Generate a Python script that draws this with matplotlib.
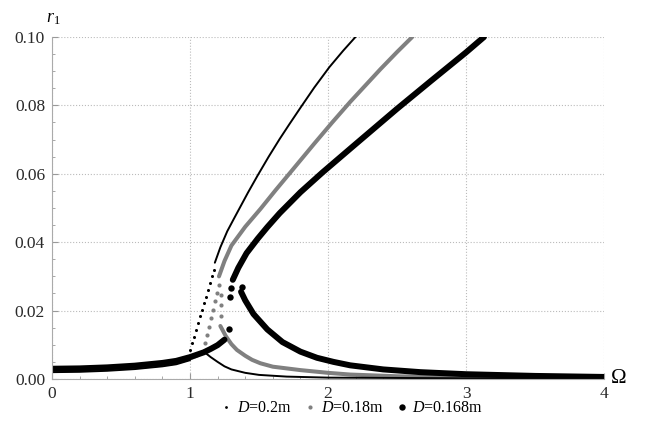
import matplotlib
matplotlib.use("Agg")
import matplotlib.pyplot as plt
from matplotlib.lines import Line2D

plt.rcParams['font.family'] = 'Liberation Serif'
plt.rcParams['mathtext.fontset'] = 'custom'
plt.rcParams['mathtext.rm'] = 'Liberation Serif'
plt.rcParams['mathtext.it'] = 'Liberation Serif:italic'

# --- D = 0.2 m ---
a_left_x = [0.0, 0.2, 0.4, 0.6, 0.8, 0.9, 1.0]
a_left_y = [0.0020, 0.0021, 0.0024, 0.0029, 0.0037, 0.0043, 0.0055]
a_dot_x = [1.000, 1.017, 1.032, 1.043, 1.058, 1.072, 1.085, 1.099,
           1.114, 1.128, 1.143, 1.157, 1.172]
a_dot_y = [0.0085, 0.0105, 0.0124, 0.0144, 0.0163, 0.0183, 0.0202,
           0.0222, 0.0241, 0.0261, 0.0281, 0.0300, 0.0320]
a_up_x = [1.18, 1.22, 1.27, 1.32, 1.36, 1.42, 1.49, 1.57, 1.65, 1.72,
          1.80, 1.90, 2.01, 2.11, 2.21]
a_up_y = [0.0340, 0.0385, 0.0432, 0.0470, 0.0500, 0.0545, 0.0595,
          0.0650, 0.0702, 0.0745, 0.0793, 0.0852, 0.0912, 0.0960, 0.1005]
a_right_x = [1.10, 1.15, 1.20, 1.25, 1.30, 1.40, 1.50, 1.70, 2.0, 2.5,
             3.0, 4.0]
a_right_y = [0.0080, 0.0064, 0.0050, 0.0037, 0.0028, 0.0018, 0.0012,
             0.0007, 0.0004, 0.0003, 0.0002, 0.0001]

# --- D = 0.18 m ---
b_left_x = [0.0, 0.2, 0.4, 0.6, 0.8, 0.9, 1.0, 1.05, 1.1]
b_left_y = [0.0025, 0.0026, 0.0029, 0.0034, 0.0042, 0.0048, 0.0060,
            0.0068, 0.0080]
b_dot_x = [1.109, 1.126, 1.140, 1.155, 1.169, 1.183, 1.196, 1.208,
           1.222, 1.224, 1.225]
b_dot_y = [0.0105, 0.0129, 0.0153, 0.0178, 0.0202, 0.0227, 0.0251,
           0.0276, 0.0185, 0.0215, 0.0245]
b_up_x = [1.21, 1.25, 1.30, 1.40, 1.51, 1.62, 1.75, 1.90, 2.03, 2.16,
          2.27, 2.38, 2.50, 2.61]
b_up_y = [0.0300, 0.0345, 0.0390, 0.0445, 0.0497, 0.0552, 0.0615,
          0.0688, 0.0750, 0.0810, 0.0858, 0.0906, 0.0956, 0.1000]
b_right_x = [1.22, 1.26, 1.30, 1.34, 1.40, 1.45, 1.51, 1.60, 1.80,
             2.0, 2.16, 2.5, 3.0, 4.0]
b_right_y = [0.0155, 0.0125, 0.0102, 0.0085, 0.0068, 0.0056, 0.0046,
             0.0036, 0.0026, 0.0018, 0.0013, 0.0008, 0.0005, 0.0003]

# --- D = 0.168 m ---
c_left_x = [0.0, 0.2, 0.4, 0.6, 0.8, 0.9, 1.0, 1.1, 1.15, 1.2, 1.25]
c_left_y = [0.0030, 0.0031, 0.0034, 0.0039, 0.0047, 0.0053, 0.0064,
            0.0078, 0.0088, 0.0099, 0.0115]
c_dot_x = [1.28, 1.29, 1.295, 1.375]
c_dot_y = [0.0147, 0.0240, 0.0267, 0.0270]
c_up_x = [1.31, 1.35, 1.41, 1.49, 1.56, 1.65, 1.80, 1.96, 2.18, 2.34,
          2.50, 2.75, 3.00, 3.13]
c_up_y = [0.0290, 0.0325, 0.0368, 0.0410, 0.0444, 0.0485, 0.0546,
          0.0604, 0.0680, 0.0735, 0.0790, 0.0873, 0.0955, 0.1000]
c_right_x = [1.37, 1.40, 1.46, 1.56, 1.67, 1.80, 1.92, 2.04, 2.16, 2.40,
             2.67, 3.0, 3.5, 4.0]
c_right_y = [0.0255, 0.0230, 0.0190, 0.0145, 0.0108, 0.0080, 0.0062,
             0.0050, 0.0040, 0.0028, 0.0020, 0.0014, 0.0009, 0.0006]

labels = [r'$D$=0.2m', r'$D$=0.18m', r'$D$=0.168m']

fig = plt.figure(figsize=(6.48, 4.41), dpi=100)
ax = fig.add_axes([0.0802, 0.1406, 0.852, 0.7755])

series = [
    (b_left_x, b_left_y, b_dot_x, b_dot_y, b_up_x, b_up_y, b_right_x, b_right_y,
     '#808080', 2.9, 3.0),
    (a_left_x, a_left_y, a_dot_x, a_dot_y, a_up_x, a_up_y, a_right_x, a_right_y,
     'black', 1.4, 2.2),
    (c_left_x, c_left_y, c_dot_x, c_dot_y, c_up_x, c_up_y, c_right_x, c_right_y,
     'black', 4.3, 4.6),
]
for lx, ly, dx, dy, ux, uy, rx, ry, col, lw, ms in series:
    for xs, ys in [(lx, ly), (ux, uy), (rx, ry)]:
        ax.plot(xs, ys, color=col, lw=lw, solid_capstyle='round',
                solid_joinstyle='round')
    ax.plot(dx, dy, 'o', color=col, ms=ms, mec='none')

ax.set_xlim(0, 4)
ax.set_ylim(0, 0.1)
ax.set_xticks([0, 1, 2, 3, 4])
ax.set_yticks([0.0, 0.02, 0.04, 0.06, 0.08, 0.10])
ax.set_yticklabels(['0.00', '0.02', '0.04', '0.06', '0.08', '0.10'])
ax.set_xticks([0.2 * i for i in range(21)], minor=True)
ax.set_yticks([0.005 * i for i in range(21)], minor=True)
ax.tick_params(which='major', direction='in', length=4, width=0.8,
               color='#999999', labelsize=12.5, labelcolor='#2a2a2a', pad=5)
ax.tick_params(which='minor', direction='in', length=2, width=0.6,
               color='#999999')
ax.grid(True, which='major', ls=':', lw=0.8, color='#bbbbbb')
for s in ['top', 'right']:
    ax.spines[s].set_visible(False)
for s in ['left', 'bottom']:
    ax.spines[s].set_color('#aaaaaa')
    ax.spines[s].set_linewidth(0.8)

ax.text(-0.01, 1.03, r'$r_1$', transform=ax.transAxes, fontsize=13,
        ha='left', va='bottom')
ax.text(1.01, 0.0, r'$\Omega$', transform=ax.transAxes, fontsize=15,
        ha='left', va='center')

handles = [
    Line2D([], [], ls='none', marker='o', color='black', ms=2.0, mec='none'),
    Line2D([], [], ls='none', marker='o', color='#808080', ms=3.0, mec='none'),
    Line2D([], [], ls='none', marker='o', color='black', ms=4.6, mec='none'),
]
fig.legend(handles, labels, loc='center', bbox_to_anchor=(0.542, 0.074),
           ncol=3, frameon=False, fontsize=11.5, handletextpad=0.2,
           columnspacing=0.7, handlelength=0.9)

fig.savefig('out.png', dpi=100)
